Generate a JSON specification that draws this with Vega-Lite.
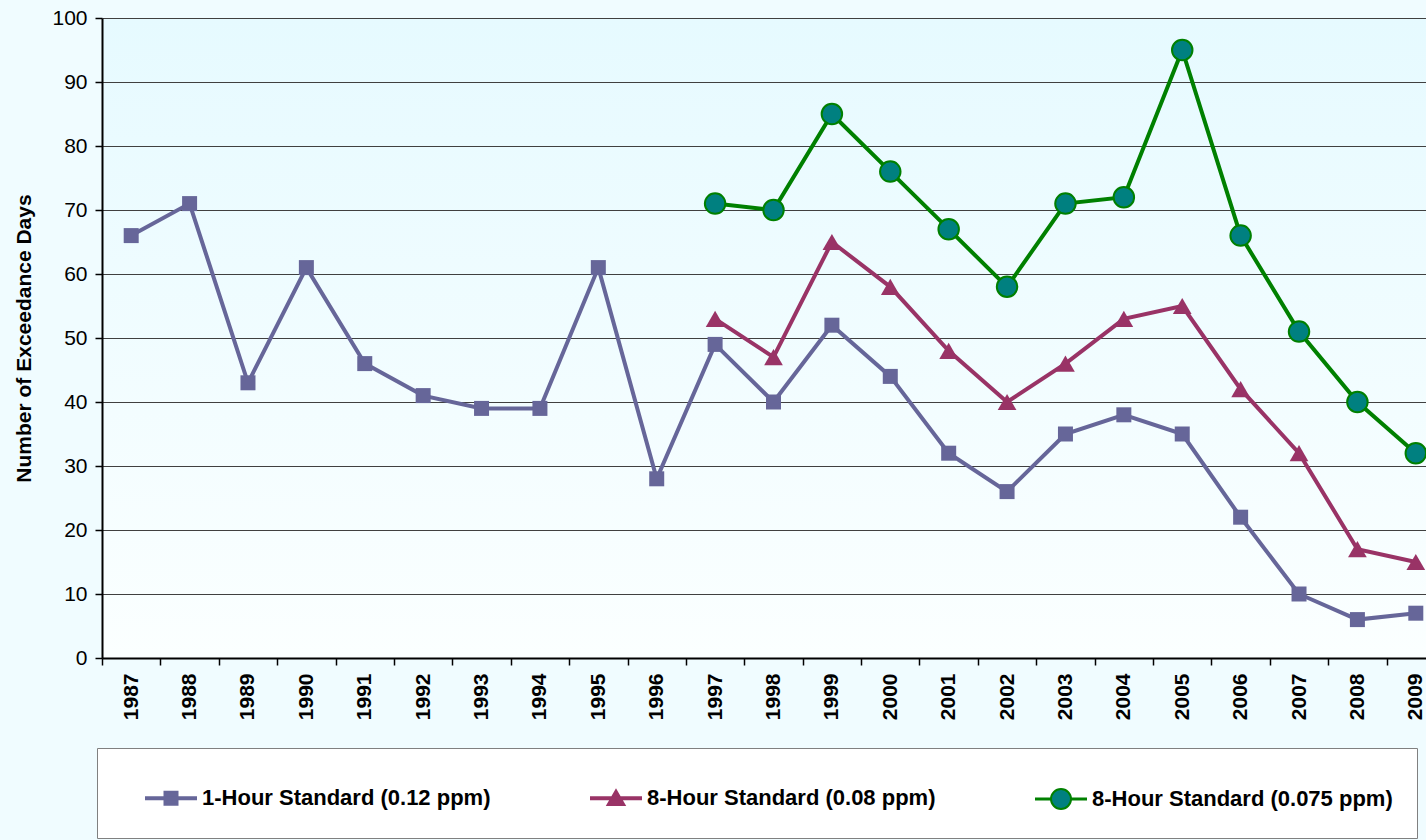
{
  "$schema": "https://vega.github.io/schema/vega-lite/v6.json",
  "width": 1343,
  "height": 640,
  "autosize": {"type": "none"},
  "padding": {"left": 102, "top": 18, "right": 0, "bottom": 182},
  "background": "#f0fcff",
  "config": {
    "font": "Liberation Sans",
    "view": {
      "stroke": null,
      "fill": {"gradient": "linear", "x1": 0, "y1": 0, "x2": 0, "y2": 1,
        "stops": [{"offset": 0, "color": "#e6faff"}, {"offset": 1, "color": "#fbffff"}]}
    },
    "legend": {
      "orient": "none", "legendX": -5, "legendY": 730, "direction": "horizontal",
      "gridAlign": "all", "columnPadding": 63,
      "fillColor": "#ffffff", "strokeColor": "#808080", "padding": 24, "symbolOffset": 24,
      "labelFont": "Liberation Sans", "labelFontSize": 22, "labelFontWeight": "bold",
      "labelColor": "#000000", "labelLimit": 0, "labelOffset": 5,
      "symbolSize": 2500, "symbolStrokeWidth": 2, "symbolOpacity": 1
    }
  },
  "data": {"values": [
    {"year": "1987", "series": "1-Hour Standard (0.12 ppm)", "days": 66},
    {"year": "1988", "series": "1-Hour Standard (0.12 ppm)", "days": 71},
    {"year": "1989", "series": "1-Hour Standard (0.12 ppm)", "days": 43},
    {"year": "1990", "series": "1-Hour Standard (0.12 ppm)", "days": 61},
    {"year": "1991", "series": "1-Hour Standard (0.12 ppm)", "days": 46},
    {"year": "1992", "series": "1-Hour Standard (0.12 ppm)", "days": 41},
    {"year": "1993", "series": "1-Hour Standard (0.12 ppm)", "days": 39},
    {"year": "1994", "series": "1-Hour Standard (0.12 ppm)", "days": 39},
    {"year": "1995", "series": "1-Hour Standard (0.12 ppm)", "days": 61},
    {"year": "1996", "series": "1-Hour Standard (0.12 ppm)", "days": 28},
    {"year": "1997", "series": "1-Hour Standard (0.12 ppm)", "days": 49},
    {"year": "1998", "series": "1-Hour Standard (0.12 ppm)", "days": 40},
    {"year": "1999", "series": "1-Hour Standard (0.12 ppm)", "days": 52},
    {"year": "2000", "series": "1-Hour Standard (0.12 ppm)", "days": 44},
    {"year": "2001", "series": "1-Hour Standard (0.12 ppm)", "days": 32},
    {"year": "2002", "series": "1-Hour Standard (0.12 ppm)", "days": 26},
    {"year": "2003", "series": "1-Hour Standard (0.12 ppm)", "days": 35},
    {"year": "2004", "series": "1-Hour Standard (0.12 ppm)", "days": 38},
    {"year": "2005", "series": "1-Hour Standard (0.12 ppm)", "days": 35},
    {"year": "2006", "series": "1-Hour Standard (0.12 ppm)", "days": 22},
    {"year": "2007", "series": "1-Hour Standard (0.12 ppm)", "days": 10},
    {"year": "2008", "series": "1-Hour Standard (0.12 ppm)", "days": 6},
    {"year": "2009", "series": "1-Hour Standard (0.12 ppm)", "days": 7},
    {"year": "1997", "series": "8-Hour Standard (0.08 ppm)", "days": 53},
    {"year": "1998", "series": "8-Hour Standard (0.08 ppm)", "days": 47},
    {"year": "1999", "series": "8-Hour Standard (0.08 ppm)", "days": 65},
    {"year": "2000", "series": "8-Hour Standard (0.08 ppm)", "days": 58},
    {"year": "2001", "series": "8-Hour Standard (0.08 ppm)", "days": 48},
    {"year": "2002", "series": "8-Hour Standard (0.08 ppm)", "days": 40},
    {"year": "2003", "series": "8-Hour Standard (0.08 ppm)", "days": 46},
    {"year": "2004", "series": "8-Hour Standard (0.08 ppm)", "days": 53},
    {"year": "2005", "series": "8-Hour Standard (0.08 ppm)", "days": 55},
    {"year": "2006", "series": "8-Hour Standard (0.08 ppm)", "days": 42},
    {"year": "2007", "series": "8-Hour Standard (0.08 ppm)", "days": 32},
    {"year": "2008", "series": "8-Hour Standard (0.08 ppm)", "days": 17},
    {"year": "2009", "series": "8-Hour Standard (0.08 ppm)", "days": 15},
    {"year": "1997", "series": "8-Hour Standard (0.075 ppm)", "days": 71},
    {"year": "1998", "series": "8-Hour Standard (0.075 ppm)", "days": 70},
    {"year": "1999", "series": "8-Hour Standard (0.075 ppm)", "days": 85},
    {"year": "2000", "series": "8-Hour Standard (0.075 ppm)", "days": 76},
    {"year": "2001", "series": "8-Hour Standard (0.075 ppm)", "days": 67},
    {"year": "2002", "series": "8-Hour Standard (0.075 ppm)", "days": 58},
    {"year": "2003", "series": "8-Hour Standard (0.075 ppm)", "days": 71},
    {"year": "2004", "series": "8-Hour Standard (0.075 ppm)", "days": 72},
    {"year": "2005", "series": "8-Hour Standard (0.075 ppm)", "days": 95},
    {"year": "2006", "series": "8-Hour Standard (0.075 ppm)", "days": 66},
    {"year": "2007", "series": "8-Hour Standard (0.075 ppm)", "days": 51},
    {"year": "2008", "series": "8-Hour Standard (0.075 ppm)", "days": 40},
    {"year": "2009", "series": "8-Hour Standard (0.075 ppm)", "days": 32}
  ]},
  "encoding": {
    "x": {
      "field": "year", "type": "nominal",
      "scale": {"type": "band", "paddingInner": 0, "paddingOuter": 0},
      "axis": {
        "title": null, "labelAngle": 270, "labelFontWeight": "bold", "labelFontSize": 21,
        "labelColor": "#000000", "labelPadding": 8, "tickBand": "extent", "tickSize": 7,
        "tickColor": "#000000", "tickWidth": 1.5, "domainColor": "#000000", "domainWidth": 2,
        "grid": false, "labelAlign": "right", "labelBaseline": "middle"
      }
    },
    "y": {
      "field": "days", "type": "quantitative",
      "scale": {"domain": [0, 100], "nice": false},
      "axis": {
        "title": "Number of Exceedance Days", "titleFontSize": 21, "titleFontWeight": "bold",
        "titleColor": "#000000", "titlePadding": 17,
        "values": [0, 10, 20, 30, 40, 50, 60, 70, 80, 90, 100],
        "labelFontSize": 21, "labelColor": "#000000", "labelPadding": 8,
        "tickSize": 7, "tickColor": "#000000", "tickWidth": 1.5,
        "domainColor": "#000000", "domainWidth": 2,
        "grid": true, "gridColor": "#404040", "gridWidth": 1.2
      }
    }
  },
  "layer": [
    {
      "mark": {"type": "line", "strokeWidth": 4},
      "encoding": {
        "color": {
          "field": "series", "type": "nominal",
          "scale": {
            "domain": ["1-Hour Standard (0.12 ppm)", "8-Hour Standard (0.08 ppm)", "8-Hour Standard (0.075 ppm)"],
            "range": ["#666699", "#993366", "#008000"]
          },
          "legend": {
            "title": null,
            "encoding": {
              "symbols": {
                "shape": {"value": {"expr": "datum.value === '1-Hour Standard (0.12 ppm)' ? 'M0,-0.46L0,-0.46 M0,0.46L0,0.46 M-1,-0.04H1V0.04H-1Z M-0.26,-0.26H0.26V0.26H-0.26Z' : datum.value === '8-Hour Standard (0.08 ppm)' ? 'M0,-0.46L0,-0.46 M0,0.46L0,0.46 M-1,-0.04H1V0.04H-1Z M0,-0.32L0.34,0.27H-0.34Z' : 'M-1,-0.02H-0.4V0.02H-1Z M0.4,-0.02H1V0.02H0.4Z M-0.4,0A0.4,0.4 0 1,1 0.4,0A0.4,0.4 0 1,1 -0.4,0Z'"}},
                "fill": {"value": {"expr": "datum.value === '1-Hour Standard (0.12 ppm)' ? '#666699' : datum.value === '8-Hour Standard (0.08 ppm)' ? '#993366' : '#008080'"}},
                "stroke": {"value": {"expr": "datum.value === '1-Hour Standard (0.12 ppm)' ? '#666699' : datum.value === '8-Hour Standard (0.08 ppm)' ? '#993366' : '#008000'"}},
                "strokeWidth": {"value": 2},
                "size": {"value": 2500},
                "opacity": {"value": 1},
                "fillOpacity": {"value": 1},
                "strokeOpacity": {"value": 1}
              }
            }
          }
        }
      }
    },
    {
      "transform": [{"filter": "datum.series === '1-Hour Standard (0.12 ppm)'"}],
      "mark": {"type": "point", "shape": "square", "filled": true, "color": "#666699", "opacity": 1, "size": 225}
    },
    {
      "transform": [{"filter": "datum.series === '8-Hour Standard (0.08 ppm)'"}],
      "mark": {"type": "point", "shape": "triangle-up", "filled": true, "color": "#993366", "opacity": 1, "size": 350}
    },
    {
      "transform": [{"filter": "datum.series === '8-Hour Standard (0.075 ppm)'"}],
      "mark": {"type": "point", "shape": "circle", "filled": true, "fill": "#008080", "stroke": "#008000", "strokeWidth": 2, "opacity": 1, "size": 420}
    }
  ]
}
